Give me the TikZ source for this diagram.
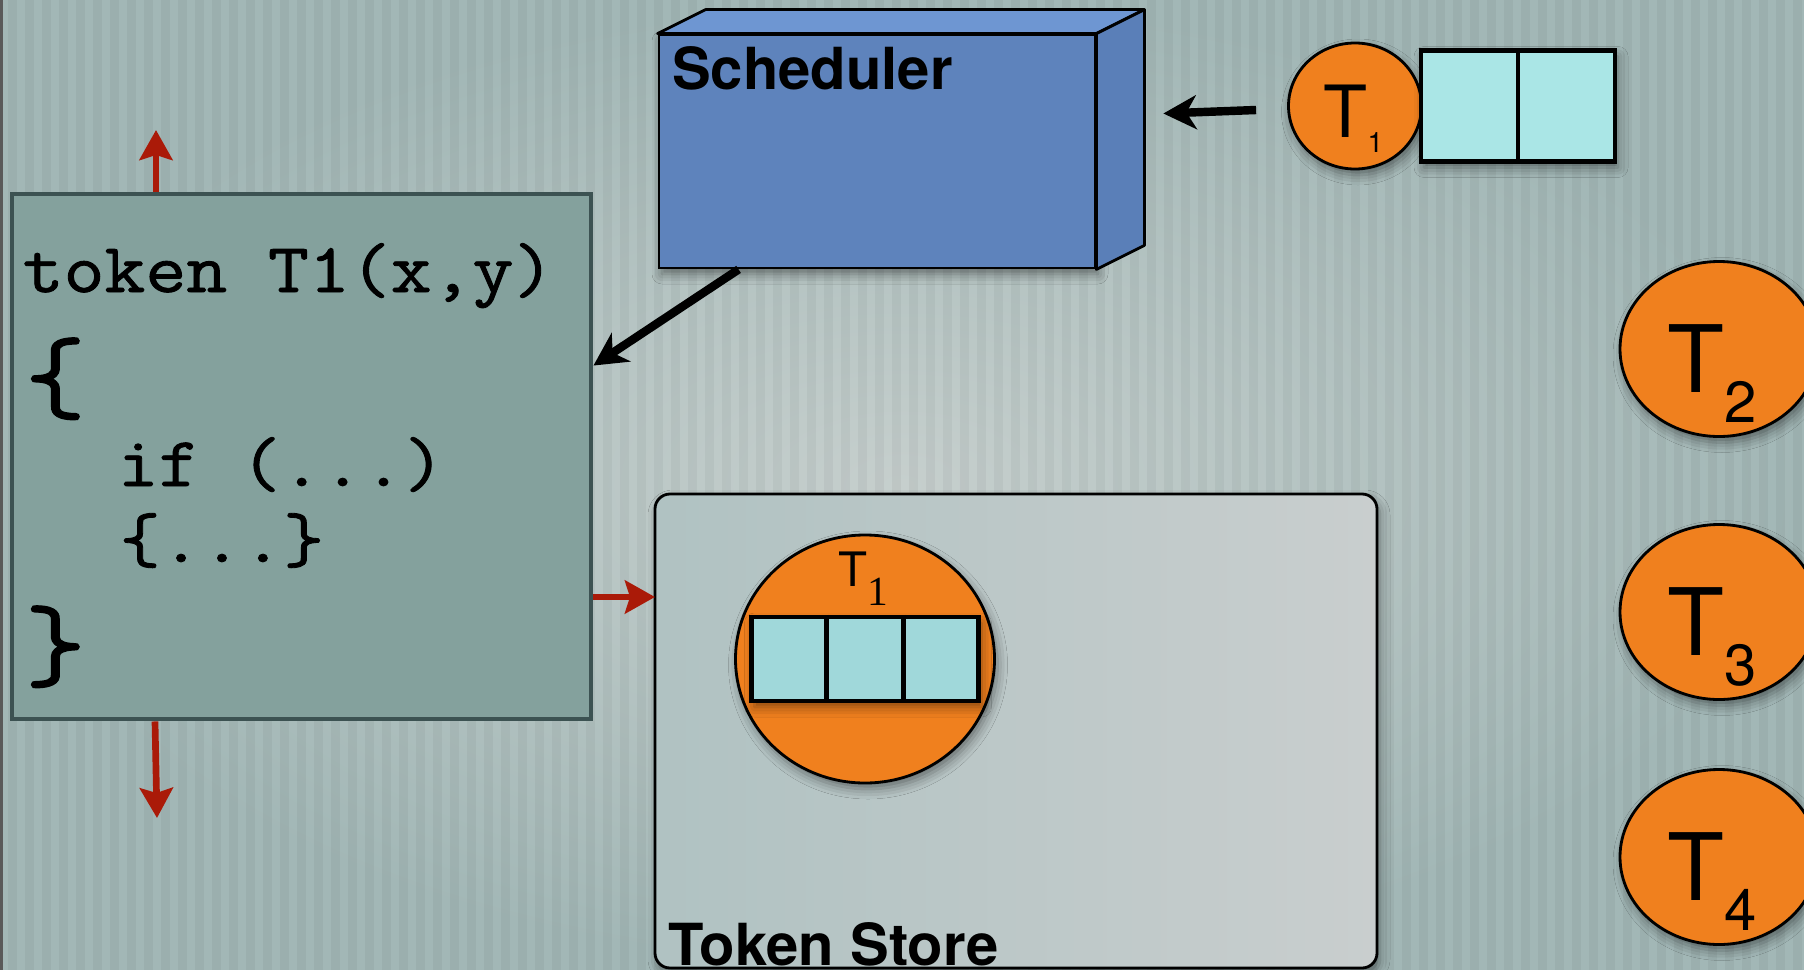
\documentclass[tikz,border=0pt]{standalone}
\usepackage{fontspec}
\setsansfont{TeX Gyre Heros}
\setmonofont[FakeStretch=1.13, FakeBold=1.2]{Latin Modern Mono}
\newfontfamily\subserif{Liberation Serif}
\usetikzlibrary{positioning, arrows.meta, calc, shapes.geometric, shadows.blur}

\definecolor{bgdark}{RGB}{162,183,182}
\definecolor{bglight}{RGB}{198,207,205}
\definecolor{schedfront}{RGB}{94,131,188}
\definecolor{schedtop}{RGB}{110,150,210}
\definecolor{schedside}{RGB}{90,127,184}
\definecolor{codefill}{RGB}{132,161,157}
\definecolor{codeedge}{RGB}{60,82,82}
\definecolor{storeleft}{RGB}{176,194,194}
\definecolor{storeright}{RGB}{201,206,206}
\definecolor{tokorange}{RGB}{240,128,30}
\definecolor{qcyan}{RGB}{170,230,230}
\definecolor{qcyandark}{RGB}{160,216,218}
\definecolor{arrowred}{RGB}{170,26,8}

\begin{document}
\begin{tikzpicture}[
    font=\sffamily,
    softshadow/.style={
        blur shadow={shadow xshift=0.03cm, shadow yshift=-0.06cm,
                     shadow blur radius=0.1cm, shadow opacity=45}
    },
    schedbox/.style={
        draw=black,
        line width=0.8pt,
        fill=schedfront,
        minimum width=4.36cm,
        minimum height=2.33cm,
        inner sep=0pt,
        softshadow
    },
    codebox/.style={
        draw=codeedge,
        line width=1.4pt,
        fill=codefill,
        minimum width=5.79cm,
        minimum height=5.25cm,
        inner sep=0pt
    },
    storebox/.style={
        draw=black,
        line width=0.8pt,
        left color=storeleft,
        right color=storeright,
        rounded corners=0.15cm,
        minimum width=7.22cm,
        minimum height=4.74cm,
        inner sep=0pt,
        softshadow
    },
    tokcircle/.style={
        ellipse,
        draw=black,
        line width=0.8pt,
        fill=tokorange,
        inner sep=0pt,
        softshadow
    },
    queuebox/.style={
        draw=black,
        line width=1.2pt,
        inner sep=0pt,
        softshadow
    },
    titletext/.style={
        font=\fontsize{16.5}{16.5}\selectfont\sffamily\bfseries,
        anchor=base west,
        inner sep=0pt
    },
    codeline/.style={
        font=\fontsize{20}{20}\selectfont\ttfamily,
        anchor=base west,
        inner sep=0pt
    },
    codebrace/.style={
        font=\fontsize{30}{30}\selectfont\ttfamily,
        anchor=base west,
        inner sep=0pt
    },
    toklabel/.style={anchor=base west, inner sep=0pt},
    blackarrow/.style={-{Stealth[length=0.33cm, width=0.34cm, inset=0.1cm]},
        line width=2.4pt},
    redarrow/.style={-{Stealth[length=0.3cm, width=0.33cm, inset=0.05cm]},
        line width=1.9pt, draw=arrowred}
]
% ============================================================
% BACKDROP -- striped grey-green panel
% ============================================================
\useasboundingbox (0,0) rectangle (18.04,-9.70);
\shade[inner color=bglight, outer color=bgdark] (0,0) rectangle (18.04,-9.70);
\foreach \s in {0,...,105}
    \fill[black, opacity=0.04] (\s*0.17+0.08,0) rectangle ++(0.085,-9.70);
\draw[black!65, line width=0.05cm] (0.01,0) -- (0.01,-9.70);
% ============================================================
% SCHEDULER -- box drawn with a top and a side face
% ============================================================
\node[schedbox] (sched) at (8.77,-1.515) {};
\filldraw[fill=schedtop, draw=black, line width=0.8pt, line join=round]
    (sched.north west) -- ++(0.48,0.24)
    -- ($(sched.north east)+(0.48,0.24)$) -- (sched.north east) -- cycle;
\filldraw[fill=schedside, draw=black, line width=0.8pt, line join=round]
    (sched.north east) -- ++(0.48,0.24)
    -- ($(sched.south east)+(0.48,0.24)$) -- (sched.south east) -- cycle;
\node[titletext] (schedlabel) at ($(sched.north west)+(0.14,-0.56)$) {Scheduler};
% ============================================================
% TOKEN CODE
% ============================================================
\node[codebox] (code) at (3.015,-4.565) {};
\node[codeline]  (codehead)  at (0.22,-2.92) {token T1(x,y)};
\node[codebrace] (codeopen)  at (0.24,-4.11) {\{};
\node[codeline]  (codeif)    at (1.17,-4.86) {if (...)};
\node[codeline]  (codebody)  at (1.19,-5.62) {\{...\}};
\node[codebrace] (codeclose) at (0.24,-6.79) {\}};
% ============================================================
% TOKEN STORE with one stored token
% ============================================================
\node[storebox] (store) at (10.16,-7.31) {};
\node[titletext] (storelabel) at (6.68,-9.65) {Token Store};
\node[tokcircle, minimum width=2.59cm, minimum height=2.48cm] (storetok) at (8.65,-6.59) {};
\node[queuebox, fill=qcyandark, minimum width=2.27cm, minimum height=0.84cm]
    (storeq) at (storetok.center) {};
\draw[line width=1.2pt] ($(storeq.north west)!1/3!(storeq.north east)$)
    -- ($(storeq.south west)!1/3!(storeq.south east)$);
\draw[line width=1.2pt] ($(storeq.north west)!2/3!(storeq.north east)$)
    -- ($(storeq.south west)!2/3!(storeq.south east)$);
\node[toklabel] (storetoklabel) at ($(storetok.center)+(-0.27,0.73)$)
    {\fontsize{13.5}{13.5}\selectfont T\raisebox{-0.19cm}{\fontsize{11.8}{11.8}\selectfont\subserif 1}};
% ============================================================
% INCOMING TOKEN (top right) and waiting tokens (right edge)
% ============================================================
\node[tokcircle, minimum width=1.33cm, minimum height=1.26cm] (toptok) at (13.55,-1.06) {};
\node[queuebox, fill=qcyan, minimum width=1.94cm, minimum height=1.11cm,
    right=-0.04cm of toptok] (topq) {};
\draw[line width=1.2pt] (topq.north) -- (topq.south);
\node[toklabel] (toptoklabel) at ($(toptok.center)+(-0.32,-0.31)$)
    {\fontsize{20.5}{20.5}\selectfont T\raisebox{-0.15cm}{\fontsize{8}{8}\selectfont 1}};

\node[tokcircle, minimum width=1.98cm, minimum height=1.75cm] (tok2) at (17.19,-3.49) {};
\node[tokcircle, minimum width=1.98cm, minimum height=1.75cm] (tok3) at (17.19,-6.12) {};
\node[tokcircle, minimum width=1.98cm, minimum height=1.75cm] (tok4) at (17.19,-8.57) {};
\node[toklabel] (tok2label) at ($(tok2.center)+(-0.52,-0.43)$)
    {\fontsize{26.5}{26.5}\selectfont T\raisebox{-0.30cm}{\fontsize{16.5}{16.5}\selectfont 2}};
\node[toklabel] (tok3label) at ($(tok3.center)+(-0.52,-0.43)$)
    {\fontsize{26.5}{26.5}\selectfont T\raisebox{-0.30cm}{\fontsize{16.5}{16.5}\selectfont 3}};
\node[toklabel] (tok4label) at ($(tok4.center)+(-0.52,-0.43)$)
    {\fontsize{26.5}{26.5}\selectfont T\raisebox{-0.30cm}{\fontsize{16.5}{16.5}\selectfont 4}};
% ============================================================
% ARROWS
% ============================================================
\draw[blackarrow] ($(toptok.west)+(-0.31,-0.04)$) -- ($(sched.east)+(0.67,0.38)$);
\draw[blackarrow] ($(sched.south west)+(0.81,0)$) -- ($(code.north east)+(0,-1.74)$);

\coordinate (upend) at (1.56,-1.30);
\coordinate (downend) at (1.57,-8.18);
\coordinate (storeport) at (6.55,-5.97);
\draw[redarrow] (upend |- code.north) -- (upend);
\draw[redarrow] (1.55,0 |- code.south) -- (downend);
\draw[redarrow] (code.east |- storeport) -- (storeport);
\end{tikzpicture}
\end{document}
